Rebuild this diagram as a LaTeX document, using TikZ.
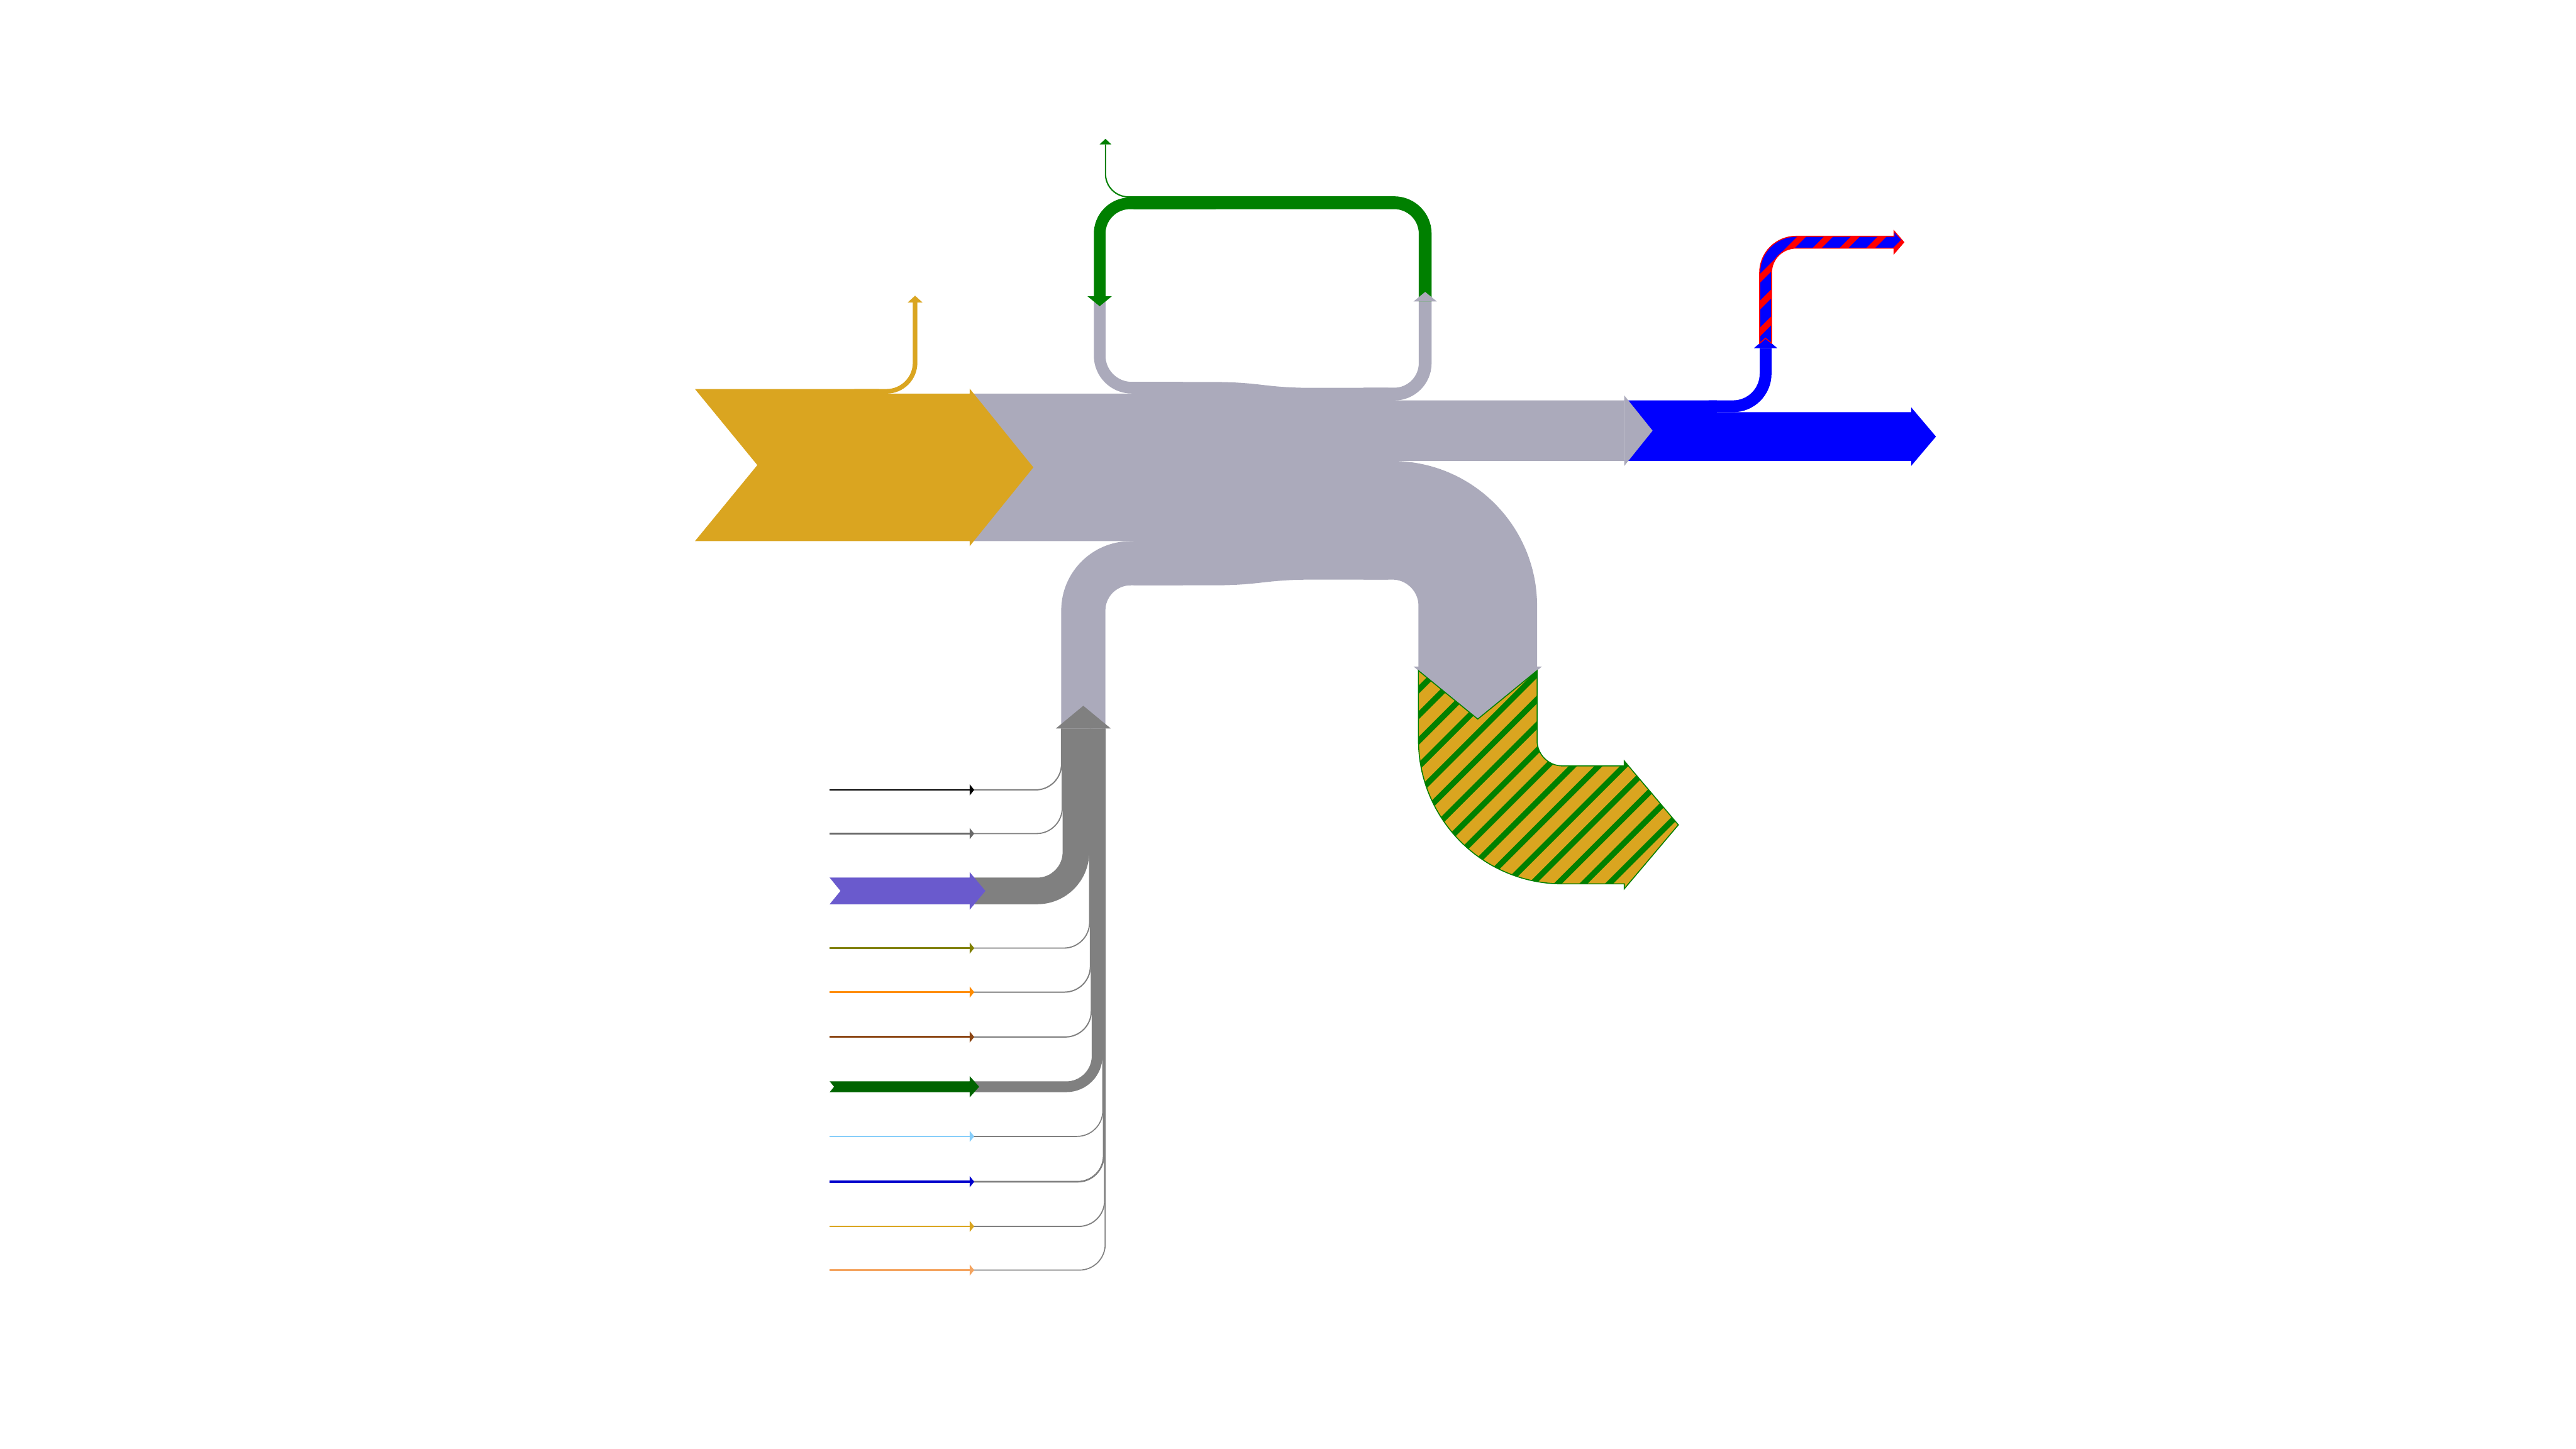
\documentclass[tikz,border=0pt]{standalone}
\usepackage{tikz}
\definecolor{lg}{RGB}{171,170,187}
\definecolor{dg}{RGB}{128,128,128}
\definecolor{gold}{RGB}{218,165,32}
\definecolor{grn}{RGB}{0,128,0}
\definecolor{blu}{RGB}{0,0,255}
\definecolor{rd}{RGB}{255,0,0}
\definecolor{dimgr}{RGB}{105,105,105}
\definecolor{slateb}{RGB}{106,90,205}
\definecolor{oliv}{RGB}{128,128,0}
\definecolor{dorange}{RGB}{255,140,0}
\definecolor{sbrown}{RGB}{139,69,19}
\definecolor{dgreen}{RGB}{0,100,0}
\definecolor{lsky}{RGB}{135,206,250}
\definecolor{mblue}{RGB}{0,0,205}
\definecolor{sandy}{RGB}{244,164,96}
\begin{document}
\begin{tikzpicture}[x=1pt,y=-1pt,line cap=butt]
\useasboundingbox (0,0) rectangle (1568,882);
% ---------- light gray body ----------
\fill[lg] (590.2,239.6) -- (700,239.6) -- (700,232.5) -- (737,232.5)
  .. controls (768.5,232.5) and (768.5,236.1) .. (800,236.1) -- (845,236.1) -- (845,243.7)
  -- (988.6,243.7) -- (988.6,280.6) -- (845,280.6) -- (845,352.8) -- (800,352.8)
  .. controls (768.5,352.8) and (768.5,356.3) .. (737,356.3) -- (690,356.3) -- (690,329.4)
  -- (590.2,329.4) -- cycle;
\draw[lg, line width=7.1pt, rounded corners=19.55pt] (669.35,180.4) |- (720,236.0);
\draw[lg, line width=7.8pt, rounded corners=18.9pt] (830,239.9) -| (867.5,183.5);
\draw[lg, line width=72.2pt, rounded corners=52.1pt] (830,316.7) -| (899.5,405.7);
\draw[lg, line width=26.9pt, rounded corners=28.8pt] (659.4,443.4) |- (720,342.85);
% ---------- gold input ----------
\fill[gold] (423,236.8) -- (535,236.8) -- (535,239.6) -- (590.2,239.6) -- (590.2,236.5)
  -- (629,284.5) -- (590.2,332.5) -- (590.2,329.4) -- (423,329.4) -- (461,283.1) -- cycle;
\draw[gold, line width=2.8pt, rounded corners=17.4pt] (520,238.2) -| (557,184.1);
\fill[gold] (552.5,184.1) -- (557,180) -- (561.5,184.1) -- cycle;
% ---------- green loop ----------
\draw[grn, line width=7.8pt, rounded corners=18.9pt] (867.5,183.5) |- (690,123.4);
\draw[grn, line width=7.1pt, rounded corners=18.55pt] (669.35,180.4) |- (740,123.75);
\draw[grn, line width=0.8pt, rounded corners=14pt] (700,119.85) -| (672.9,87.9);
\fill[grn] (662,180.4) -- (669.35,186.4) -- (676.7,180.4) -- cycle;
\fill[grn] (669.3,87.9) -- (672.9,84.5) -- (676.5,87.9) -- cycle;
\fill[lg] (860.4,183.5) -- (867.5,177.7) -- (874.6,183.5) -- cycle;
% ---------- blue ----------
\fill[blu] (988.6,243.7) -- (1045,243.7) -- (1045,250.9) -- (1163.3,250.9) -- (1163.3,247.9)
  -- (1178.4,265.75) -- (1163.3,283.6) -- (1163.3,280.6) -- (988.6,280.6) -- (1003.8,262.15) -- cycle;
\draw[blu, line width=7.2pt, rounded corners=19.8pt] (1040,247.3) -| (1074.7,211.9);
\fill[blu] (1067.6,211.9) -- (1074.7,205.9) -- (1081.8,211.9) -- cycle;
\def\bluepath{(1071.1,208.9) -- (1071.1,165.95) .. controls (1071.1,153.75) and (1081.0,143.85) .. (1093.2,143.85) -- (1152.9,143.85) -- (1152.9,140.6) -- (1158.8,147.45) -- (1152.9,154.3) -- (1152.9,151.05) -- (1093.2,151.05) .. controls (1084.97,151.05) and (1078.3,157.72) .. (1078.3,165.95) -- (1078.3,208.9) -- (1074.7,205.9) -- cycle}
\begin{scope}
  \clip \bluepath;
  \fill[blu] (1060,130) rectangle (1170,215);
  \foreach \k in {-2,...,6} {
    \pgfmathsetmacro\cc{1240.75+16.3*\k}
    \draw[rd, line width=3.8pt] (\cc-120,120) -- (\cc-220,220);
  }
\end{scope}
\draw[rd, line width=0.6pt, line join=miter] \bluepath;
\fill[lg] (988.6,240.6) -- (1005.9,262.15) -- (988.6,283.7) -- cycle;
% ---------- gold / green striped ----------
\fill[lg] (860.4,405.7) -- (899.5,437.7) -- (938.6,405.7) -- cycle;
\def\goldpath{(863.4,408.2) -- (899.5,437.7) -- (935.6,408.2) -- (935.6,450.7) .. controls (935.6,459.26) and (942.54,466.2) .. (951.1,466.2) -- (988.7,466.2) -- (988.7,463.2) -- (1021.6,502.1) -- (988.7,541) -- (988.7,538) -- (951.1,538) .. controls (902.66,538) and (863.4,498.74) .. (863.4,450.3) -- cycle}
\begin{scope}
  \clip \goldpath;
  \fill[gold] (850,400) rectangle (1030,550);
  \foreach \k in {-16,...,4} {
    \pgfmathsetmacro\cc{1486.1+15.6*\k}
    \draw[grn, line width=3.5pt] (\cc-380,380) -- (\cc-570,570);
  }
\end{scope}
\draw[grn, line width=0.6pt, line join=miter] \goldpath;
% ---------- collector ----------
\foreach \yy/\ww/\cx/\rr in {480.8/0.75/646.15/15.75, 507.4/0.7/646.6/15.7, 542.3/16.2/654.9/23.6,
  577.1/0.7/663.225/15.7, 603.9/0.75/663.725/15.8, 631.2/0.75/664.275/15.8, 661.5/6.55/667.825/18.8,
  691.7/0.65/671.275/15.7, 719.3/1.0/671.8/15.85, 746.5/0.7/672.35/15.7, 773.1/0.65/672.725/15.7} {
  \draw[dg, line width=\ww pt, rounded corners=\rr pt] (590.2,\yy) -| (\cx,443.4);
}
\fill[dg] (642.7,443.4) -- (659.4,429.6) -- (676.1,443.4) -- cycle;
% ---------- inputs ----------
\foreach \yy/\ww/\col in {480.8/1.1/black, 507.4/0.9/dimgr, 577.1/1.0/oliv, 603.9/1.1/dorange,
  631.2/1.2/sbrown, 691.7/1.0/lsky, 719.3/1.4/mblue, 746.5/1.0/gold, 773.1/0.9/sandy} {
  \draw[\col, line width=\ww pt] (505,\yy) -- (590.4,\yy);
  \fill[\col] (590.2,\yy-3.45) -- (593,\yy) -- (590.2,\yy+3.45) -- cycle;
}
\fill[slateb] (505,534.2) -- (590.2,534.2) -- (590.2,530.8) -- (599.8,542.3) -- (590.2,553.8)
  -- (590.2,550.4) -- (505,550.4) -- (511.6,542.3) -- cycle;
\fill[dgreen] (505,658.2) -- (590.2,658.2) -- (590.2,655.0) -- (596,661.5) -- (590.2,668.0)
  -- (590.2,664.8) -- (505,664.8) -- (507.7,661.5) -- cycle;
\end{tikzpicture}
\end{document}
